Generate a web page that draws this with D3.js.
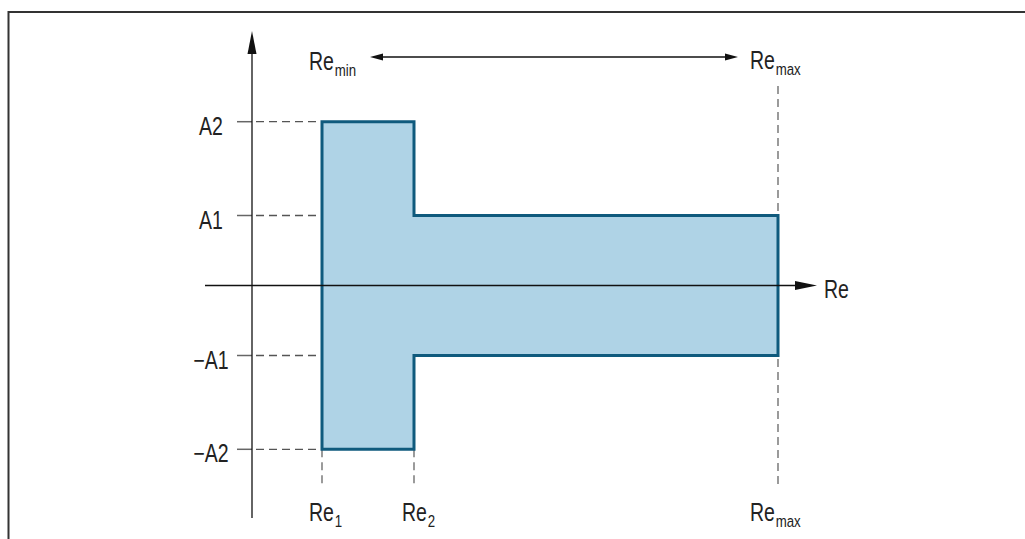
<!DOCTYPE html>
<html><head><meta charset="utf-8">
<script src="https://cdn.jsdelivr.net/npm/d3@7/dist/d3.min.js"></script>
<style>
html,body{margin:0;padding:0;background:#fff;}
svg{display:block;}
text{font-family:"Liberation Sans",Arial,sans-serif;fill:#222;}
</style></head><body>
<svg id="c" width="1025" height="539"></svg>
<script>
// ---- data ----
const reKeys = ["Re1", "Re2", "Remax"];
const reValues = [0.70, 1.62, 5.26];          // positions along Re axis
const reLabelMain = ["Re", "Re", "Re"];
const reLabelSub = ["1", "2", "max"];
const ampLabels = ["A2", "A1", "\u2212A1", "\u2212A2"];
const ampValues = [2.34, 1.0, -1.0, -2.34];
const rangeLabels = [["Re", "min"], ["Re", "max"]];   // Re_min <-> Re_max
const axisLabelX = "Re";

// ---- setup ----
const svg = d3.select("#c");
const x = d3.scaleLinear().domain([0, 1]).range([252, 352]);
const y = d3.scaleLinear().domain([0, 1]).range([285.5, 215.5]);
const v = Object.fromEntries(reKeys.map((k, i) => [k, reValues[i]]));
const A1 = ampValues[1], A2 = ampValues[0];
const SX = 0.78;
const FS = 25, FSUB = 17;

function narrowText(px, py, size, anchor) {
  return svg.append("text")
    .attr("transform", `translate(${px},${py}) scale(${SX},1)`)
    .attr("font-size", size).attr("text-anchor", anchor || "start");
}

// frame
svg.append("path").attr("d", "M8.5,539 V12 H1025")
  .attr("fill", "none").attr("stroke", "#333").attr("stroke-width", 2);

// ---- shape ----
const pts = [
  [v.Re1, A2], [v.Re2, A2], [v.Re2, A1], [v.Remax, A1],
  [v.Remax, -A1], [v.Re2, -A1], [v.Re2, -A2], [v.Re1, -A2]
];

// ---- horizontal tick dashes ----
ampValues.forEach((a, i) => {
  svg.append("line").attr("x1", 237).attr("x2", x(0)).attr("y1", y(a)).attr("y2", y(a))
    .attr("stroke", "#666").attr("stroke-width", 1.5);
  svg.append("line").attr("x1", x(0) + 4).attr("x2", Math.abs(a) > 1.5 ? x(v.Re1) : x(v.Re2))
    .attr("y1", y(a)).attr("y2", y(a))
    .attr("stroke", "#555").attr("stroke-width", 1.3).attr("stroke-dasharray", "8,5");
  narrowText(211, y(a) + 13, FS, "middle").text(ampLabels[i]);
});

// ---- vertical dashes ----
[[v.Re1, y(-A2), 488], [v.Re2, y(-A2), 488], [v.Remax, 86, 488]].forEach(d => {
  svg.append("line").attr("x1", x(d[0])).attr("x2", x(d[0]))
    .attr("y1", d[1]).attr("y2", d[2])
    .attr("stroke", "#666").attr("stroke-width", 1.3).attr("stroke-dasharray", "8,5");
});

svg.append("path")
  .attr("d", d3.line().x(d => x(d[0])).y(d => y(d[1]))(pts) + "Z")
  .attr("fill", "#afd3e6").attr("stroke", "#0f5a7d").attr("stroke-width", 3)
  .attr("stroke-linejoin", "miter");

// ---- axes ----
svg.append("line").attr("x1", x(0)).attr("x2", x(0)).attr("y1", 518).attr("y2", 45)
  .attr("stroke", "#111").attr("stroke-width", 1.3);
svg.append("path").attr("d", `M${x(0)},31 L${x(0) - 4.5},54 L${x(0) + 4.5},54 Z`).attr("fill", "#111");

svg.append("line").attr("x1", 205).attr("x2", 800).attr("y1", y(0)).attr("y2", y(0))
  .attr("stroke", "#111").attr("stroke-width", 1.3);
svg.append("path").attr("d", `M817,${y(0)} L795,${y(0) - 4.5} L795,${y(0) + 4.5} Z`).attr("fill", "#111");
narrowText(824, y(0) + 12, FS).text(axisLabelX);

// ---- Re_min <-> Re_max arrow ----
const ay = 57;
svg.append("line").attr("x1", 380).attr("x2", 728).attr("y1", ay).attr("y2", ay)
  .attr("stroke", "#111").attr("stroke-width", 1.3);
svg.append("path").attr("d", `M370,${ay} L383,${ay - 3.5} L383,${ay + 3.5} Z`).attr("fill", "#111");
svg.append("path").attr("d", `M738,${ay} L725,${ay - 3.5} L725,${ay + 3.5} Z`).attr("fill", "#111");

function subLabel(px, py, main, sub) {
  const t = narrowText(px, py, FS);
  t.append("tspan").text(main);
  t.append("tspan").attr("font-size", FSUB).attr("dx", 1).attr("dy", 6).text(sub);
}
subLabel(309, 70, rangeLabels[0][0], rangeLabels[0][1]);
subLabel(750, 69, rangeLabels[1][0], rangeLabels[1][1]);

// bottom labels
reKeys.forEach((k, i) => {
  const offs = [13, 12, 28];
  subLabel(x(v[k]) - offs[i], 521, reLabelMain[i], reLabelSub[i]);
});
</script>
</body></html>
